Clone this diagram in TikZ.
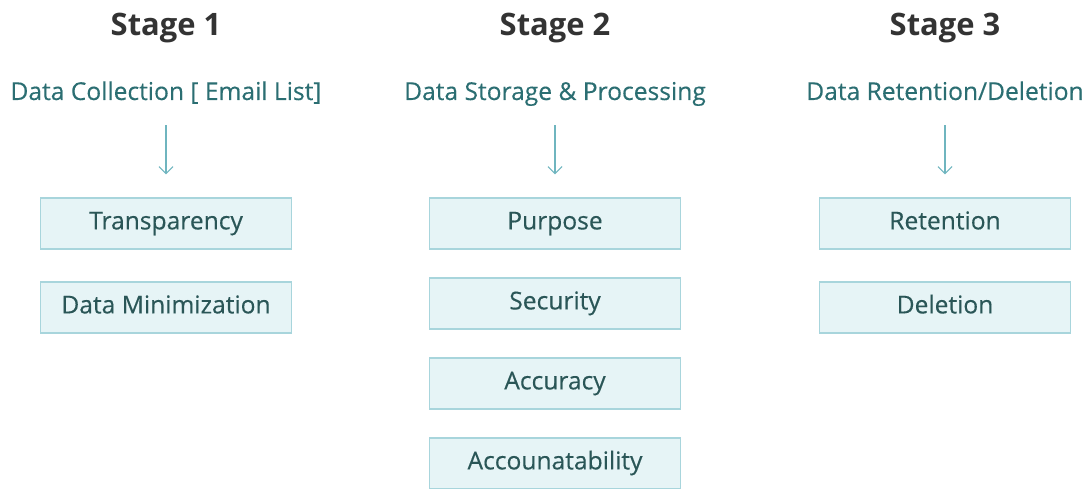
\documentclass[tikz,border=0pt]{standalone}
\usepackage{fontspec}
\setmainfont{Open Sans}
\newfontfamily\medio{Open Sans}[FakeBold=0.3]
\usepackage{tikz}
\usetikzlibrary{arrows.meta, positioning}
\definecolor{bordo}{HTML}{A8D5DC}
\definecolor{riempi}{HTML}{E6F4F6}
\definecolor{testo}{HTML}{2A5657}
\definecolor{sotto}{HTML}{2B6E72}
\definecolor{freccia}{HTML}{6FB5BF}
\definecolor{titolo}{HTML}{333333}
\tikzset{
  riquadro/.style = {draw = bordo, fill = riempi, line width = 0.8pt, minimum width = 5.02cm, minimum height = 1.02cm, inner sep = 0pt, text height = 10pt, text depth = 3.3pt, text = testo, font = \medio\fontsize{14}{16}\selectfont},
  fase/.style = {text = titolo, font = \fontsize{17.6}{20}\selectfont\bfseries, inner sep = 0pt, anchor = base},
  sottotitolo/.style = {text = sotto, font = \medio\fontsize{14}{16}\selectfont, inner sep = 0pt, text depth = 3.3pt, anchor = base},
  frecciaGiu/.style = {draw = freccia, line width = 0.6pt, -{Straight Barb[length=4pt, width=8pt, line width=0.6pt]}}
}

\begin{document}
\begin{tikzpicture}[x = 0.02cm, y = -0.02cm]
    % Parametri
    \pgfmathsetmacro{\xuno}{166}
    \pgfmathsetmacro{\xdue}{555}
    \pgfmathsetmacro{\xtre}{945}

    % Cornice
    \useasboundingbox (0,0) rectangle (1092,489);

    % Titoli
    \node[fase] (f1) at (\xuno,35.5) {Stage 1};
    \node[fase] (f2) at (\xdue,35.5) {Stage 2};
    \node[fase] (f3) at (\xtre,35.5) {Stage 3};

    % Sottotitoli
    \node[sottotitolo] (s1) at (\xuno,100) {Data Collection [ Email List]};
    \node[sottotitolo] (s2) at (\xdue,100) {Data Storage \& Processing};
    \node[sottotitolo] (s3) at (\xtre,100) {Data Retention/Deletion};

    % Riquadri - stage 1
    \node[riquadro] (trasp) at (\xuno,223.5) {Transparency};
    \node[riquadro] (minim) at (\xuno,307.5) {Data Minimization};
    % Riquadri - stage 2
    \node[riquadro] (scopo) at (\xdue,223.5) {Purpose};
    \node[riquadro] (sicur) at (\xdue,303.5) {Security};
    \node[riquadro] (accur) at (\xdue,383.5) {Accuracy};
    \node[riquadro] (respo) at (\xdue,463.5) {Accounatability};
    % Riquadri - stage 3
    \node[riquadro] (conse) at (\xtre,223.5) {Retention};
    \node[riquadro] (canc) at (\xtre,307.5) {Deletion};

    % Frecce
    \draw[frecciaGiu, shorten <= 0.38cm, shorten >= 0.46cm] (s1.south) -- (trasp.north);
    \draw[frecciaGiu, shorten <= 0.38cm, shorten >= 0.46cm] (s2.south) -- (scopo.north);
    \draw[frecciaGiu, shorten <= 0.38cm, shorten >= 0.46cm] (s3.south) -- (conse.north);
\end{tikzpicture}
\end{document}
